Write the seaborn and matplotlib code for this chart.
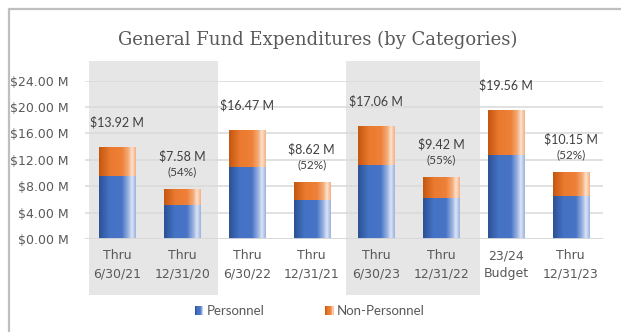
import numpy as np
import pandas as pd
import matplotlib
matplotlib.use("Agg")
import matplotlib.pyplot as plt
import seaborn as sns
from matplotlib.colors import LinearSegmentedColormap
from matplotlib.patches import Rectangle
from matplotlib.lines import Line2D
from matplotlib.legend_handler import HandlerBase
from matplotlib import transforms

# ---- data (millions of dollars) ----
periods = ["Thru\n6/30/21", "Thru\n12/31/20", "Thru\n6/30/22", "Thru\n12/31/21",
           "Thru\n6/30/23", "Thru\n12/31/22", "23/24\nBudget", "Thru\n12/31/23"]
totals = [13.92, 7.58, 16.47, 8.62, 17.06, 9.42, 19.56, 10.15]
personnel = [9.53, 5.12, 10.85, 5.88, 11.20, 6.19, 12.72, 6.49]
pct_of_year = ["", "(54%)", "", "(52%)", "", "(55%)", "", "(52%)"]
y_ticks = [0, 4, 8, 12, 16, 20, 24]

df = pd.DataFrame({"period": periods, "total": totals, "personnel": personnel})
df["non_personnel"] = df["total"] - df["personnel"]

TEXT = "#595959"
GRID = "#D9D9D9"
BAND = "#E6E6E6"
FS = 9

blue_cmap = LinearSegmentedColormap.from_list(
    "blue_bar", [(0.0, "#2C5193"), (0.28, "#4472C4"), (0.62, "#4874C5"),
                 (0.80, "#9DB5E2"), (0.89, "#DCE5F5"), (1.0, "#9AB2DF")])
orange_cmap = LinearSegmentedColormap.from_list(
    "orange_bar", [(0.0, "#C4560F"), (0.30, "#E97A2E"), (0.62, "#EE8038"),
                   (0.80, "#F4AD7A"), (0.89, "#FCE2CF"), (1.0, "#F3B083")])

W, H, DPI = 621, 332, 100
fig = plt.figure(figsize=(W / DPI, H / DPI), dpi=DPI, facecolor="white")
ax = fig.add_axes([85 / W, 1 - 239 / H, (603 - 85) / W, (239 - 80.5) / H])
ax.set_facecolor("none")

plt.rcParams["font.family"] = ["Lato", "DejaVu Sans"]

# stacked bars: total (orange) behind, personnel (blue) in front
sns.barplot(data=df, x="period", y="total", color="#ED7D31", width=0.556,
            ax=ax, saturation=1, zorder=2)
n_tot = len(ax.patches)
sns.barplot(data=df, x="period", y="personnel", color="#4472C4", width=0.556,
            ax=ax, saturation=1, zorder=4)
bars_total = ax.patches[:n_tot]
bars_pers = ax.patches[n_tot:]

grad = np.linspace(0, 1, 256).reshape(1, -1)


def shade(patch, cmap, z):
    x0, y0 = patch.get_x(), patch.get_y()
    w, h = patch.get_width(), patch.get_height()
    patch.set_zorder(z)
    im = ax.imshow(grad, cmap=cmap, aspect="auto", interpolation="bilinear",
                   extent=(x0, x0 + w, y0, y0 + h), zorder=z + 0.5)
    im.set_clip_path(patch)


for p in bars_total:
    shade(p, orange_cmap, 2)
for p in bars_pers:
    shade(p, blue_cmap, 4)

# shaded period bands reaching above and below the plot area
band_tr = transforms.blended_transform_factory(ax.transData, fig.transFigure)
for x0, x1 in [(-0.44, 1.55), (3.53, 5.60)]:
    ax.add_patch(Rectangle((x0, 1 - 294.5 / H), x1 - x0, (294.5 - 61) / H,
                           transform=band_tr, facecolor=BAND, edgecolor="none",
                           zorder=0, clip_on=False))

# value labels
for i, (tot, pct) in enumerate(zip(totals, pct_of_year)):
    if pct:
        ax.annotate(f"${tot:.2f} M", (i, tot), xytext=(0, 33),
                    textcoords="offset pixels", ha="center", va="center",
                    fontsize=FS, color="#404040", annotation_clip=False)
        ax.annotate(pct, (i, tot), xytext=(0, 17),
                    textcoords="offset pixels", ha="center", va="center",
                    fontsize=8.5, color="#404040", annotation_clip=False)
    else:
        ax.annotate(f"${tot:.2f} M", (i, tot), xytext=(0, 25),
                    textcoords="offset pixels", ha="center", va="center",
                    fontsize=FS, color="#404040", annotation_clip=False)

ax.set_xlim(-0.5, len(periods) - 0.5)
ax.set_ylim(0, 24)
ax.set_yticks(y_ticks)
ax.set_yticklabels([f"${v:.2f} M" for v in y_ticks])
ax.set_xlabel("")
ax.set_ylabel("")
ax.grid(axis="y", color=GRID, linewidth=1.1, zorder=1)
ax.set_axisbelow(True)
for s in ax.spines.values():
    s.set_visible(False)
ax.tick_params(axis="both", length=0, labelcolor=TEXT, labelsize=FS)
ax.tick_params(axis="y", pad=12)
ax.tick_params(axis="x", pad=7.5)
for lbl in ax.get_xticklabels():
    lbl.set_linespacing(1.5)
ax.axhline(0, color=GRID, linewidth=1.3, zorder=6)

fig.text(0.511, 1 - 40 / H, "General Fund Expenditures (by Categories)",
         ha="center", va="center", fontsize=13, color=TEXT,
         family="DejaVu Serif")

# chart frame (left and top edges)
fig.add_artist(Line2D([8.5 / W, 8.5 / W, 1.0], [0.0, 1 - 8.5 / H, 1 - 8.5 / H],
                      transform=fig.transFigure, color="#BFBFBF", linewidth=1.6))


class GradientHandler(HandlerBase):
    def __init__(self, cmap):
        super().__init__()
        self.cmap = cmap

    def create_artists(self, legend, orig_handle, xdescent, ydescent,
                       width, height, fontsize, trans):
        n = 10
        arts = []
        for k in range(n):
            r = Rectangle((-xdescent + k * width / n, -ydescent), width / n, height,
                          facecolor=self.cmap((k + 0.5) / n), edgecolor="none",
                          transform=trans)
            arts.append(r)
        return arts


h_pers = Rectangle((0, 0), 1, 1)
h_non = Rectangle((0, 0), 1, 1)
fig.legend([h_pers, h_non], ["Personnel", "Non-Personnel"],
           handler_map={h_pers: GradientHandler(blue_cmap),
                        h_non: GradientHandler(orange_cmap)},
           loc="center", bbox_to_anchor=(310 / W, 1 - 311 / H), ncol=2,
           frameon=False, fontsize=FS + 0.5, labelcolor=TEXT,
           handlelength=0.65, handleheight=0.75, handletextpad=0.25,
           columnspacing=4.6)

fig.savefig("out.png", dpi=DPI, facecolor="white")
